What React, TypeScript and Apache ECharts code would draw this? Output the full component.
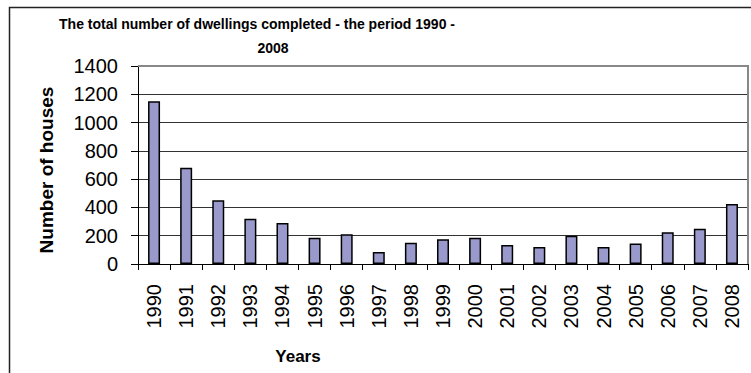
import React, { useEffect, useRef } from "react";
import * as echarts from "echarts";

const years = ["1990","1991","1992","1993","1994","1995","1996","1997","1998","1999","2000","2001","2002","2003","2004","2005","2006","2007","2008"];
const houses = [1150, 680, 450, 320, 290, 185, 210, 85, 150, 175, 185, 135, 120, 200, 120, 145, 225, 250, 425];
const titleLine1 = "The total number of dwellings completed - the period 1990 -";
const titleLine2 = "2008";
const xTitle = "Years";
const yTitle = "Number of houses";

const FONT = "Arial, 'Liberation Sans', Helvetica, sans-serif";

export default function App() {
  const ref = useRef<HTMLDivElement>(null);
  useEffect(() => {
    if (!ref.current) return;
    const chart = echarts.init(ref.current, undefined, { renderer: "svg" });
    chart.setOption({
      animation: false,
      backgroundColor: "#ffffff",
      grid: { left: 138, right: 3, top: 66, bottom: 109, containLabel: false },
      xAxis: {
        type: "category",
        data: years,
        axisLine: { show: true, lineStyle: { color: "#000", width: 1 } },
        axisTick: { show: true, alignWithLabel: false, length: 6, lineStyle: { color: "#000" } },
        axisLabel: { rotate: 90, margin: 20, fontSize: 20, color: "#000", fontFamily: FONT, interval: 0 },
        splitLine: { show: false },
      },
      yAxis: {
        type: "value",
        min: 0,
        max: 1400,
        interval: 200,
        axisLine: { show: true, lineStyle: { color: "#000", width: 1 } },
        axisTick: { show: true, inside: false, length: 7, lineStyle: { color: "#000" } },
        axisLabel: { margin: 20, fontSize: 20, color: "#000", fontFamily: FONT, formatter: (v: number) => String(v) },
        splitLine: { show: true, lineStyle: { color: "#333", width: 1 } },
      },
      series: [
        {
          type: "bar",
          data: houses,
          barWidth: 12,
          itemStyle: { color: "#9999cc", borderColor: "#000", borderWidth: 1.5 },
        },
      ],
      graphic: [
        {
          type: "rect",
          shape: { x: 9.5, y: 7.5, width: 800, height: 500 },
          style: { fill: "none", stroke: "#222", lineWidth: 1.5 },
          z: 100,
          silent: true,
        },
        {
          type: "polyline",
          shape: { points: [[138, 66], [748, 66], [748, 264]] },
          style: { fill: "none", stroke: "#888", lineWidth: 2 },
          z: 100,
          silent: true,
        },
        {
          type: "text",
          x: 257,
          y: 24,
          style: { text: titleLine1, fontSize: 14, fontWeight: "bold", fontFamily: FONT, fill: "#000", align: "center", verticalAlign: "middle" },
          z: 100,
        },
        {
          type: "text",
          x: 273,
          y: 48,
          style: { text: titleLine2, fontSize: 14, fontWeight: "bold", fontFamily: FONT, fill: "#000", align: "center", verticalAlign: "middle" },
          z: 100,
        },
        {
          type: "text",
          x: 298,
          y: 356,
          style: { text: xTitle, fontSize: 17, fontWeight: "bold", fontFamily: FONT, fill: "#000", align: "center", verticalAlign: "middle" },
          z: 100,
        },
        {
          type: "text",
          x: 46,
          y: 170,
          rotation: Math.PI / 2,
          style: { text: yTitle, fontSize: 19, fontWeight: "bold", fontFamily: FONT, fill: "#000", align: "center", verticalAlign: "middle" },
          z: 100,
        },
      ],
    });
    return () => chart.dispose();
  }, []);
  return <div ref={ref} style={{ position: "absolute", left: 0, top: 0, width: 751, height: 373 }} />;
}
